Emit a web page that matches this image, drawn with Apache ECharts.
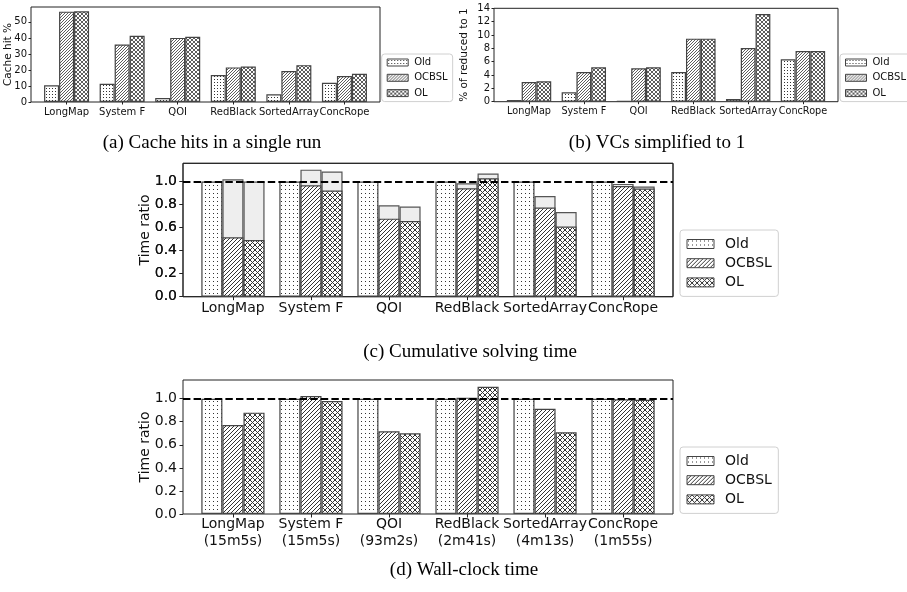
<!DOCTYPE html>
<html><head><meta charset="utf-8">
<script src="https://cdn.jsdelivr.net/npm/echarts@6/dist/echarts.min.js"></script>
<style>html,body{margin:0;padding:0;background:#fff}#c{width:907px;height:592px}</style>
</head><body><div id="c"></div>
<script>
const categories = ['LongMap','System F','QOI','RedBlack','SortedArray','ConcRope'];
const wallLabels = ['(15m5s)','(15m5s)','(93m2s)','(2m41s)','(4m13s)','(1m55s)'];
const seriesNames = ['Old','OCBSL','OL'];
const cacheOld   = [10.4, 11.4, 2.5, 16.8, 4.8, 12.0];
const cacheOCBSL = [56.4, 35.9, 40.0, 21.6, 19.3, 16.2];
const cacheOL    = [56.6, 41.3, 40.7, 22.2, 23.0, 17.6];
const vcOld   = [0.25, 1.4, 0.1, 4.45, 0.4, 6.35];
const vcOCBSL = [2.95, 4.45, 5.0, 9.45, 8.05, 7.6];
const vcOL    = [3.05, 5.15, 5.15, 9.45, 13.15, 7.6];
const solveOld        = [1, 1, 1, 1, 1, 1];
const solveOCBSL      = [0.516, 0.968, 0.678, 0.942, 0.774, 0.962];
const solveOCBSLTotal = [1.02, 1.104, 0.794, 0.986, 0.875, 0.98];
const solveOL         = [0.493, 0.922, 0.658, 1.029, 0.609, 0.939];
const solveOLTotal    = [1.0, 1.087, 0.783, 1.07, 0.736, 0.957];
const wallOld   = [1, 1, 1, 1, 1, 1];
const wallOCBSL = [0.772, 1.023, 0.717, 1.009, 0.913, 0.994];
const wallOL    = [0.879, 0.98, 0.70, 1.104, 0.708, 0.99];
const ticksA = [0, 10, 20, 30, 40, 50];
const ticksB = [0, 2, 4, 6, 8, 10, 12, 14];
const ticksC = [0, 0.2, 0.4, 0.6, 0.8, 1.0];
const refLine = 1.0;
const captions = ['(a) Cache hits in a single run', '(b) VCs simplified to 1', '(c) Cumulative solving time', '(d) Wall-clock time'];

const catPos = categories.map((_, i) => i);
const INK = '#222';
const FONT = 'DejaVu Sans';

function tile(size, draw) {
  const c = document.createElement('canvas');
  c.width = size; c.height = size;
  const g = c.getContext('2d');
  g.fillStyle = '#fff'; g.fillRect(0, 0, size, size);
  g.strokeStyle = '#333'; g.fillStyle = '#333';
  draw(g, size);
  return { image: c, repeat: 'repeat' };
}
function fwd(g, s) { g.beginPath(); g.moveTo(-1, 1); g.lineTo(1, -1); g.moveTo(0, s); g.lineTo(s, 0); g.moveTo(s - 1, s + 1); g.lineTo(s + 1, s - 1); g.stroke(); }
function back(g, s) { g.beginPath(); g.moveTo(-1, s - 1); g.lineTo(1, s + 1); g.moveTo(0, 0); g.lineTo(s, s); g.moveTo(s - 1, -1); g.lineTo(s + 1, 1); g.stroke(); }
function patterns(ds, ls, xs, lw) {
  return {
    Old: tile(ds, g => { g.fillRect(1, 1, 1, 1); }),
    OCBSL: tile(ls, g => { g.lineWidth = lw; fwd(g, ls); }),
    OL: tile(xs, g => { g.lineWidth = lw; fwd(g, xs); back(g, xs); })
  };
}
const patSmall = patterns(3, 3, 4, 0.8);
const patBig = patterns(4, 4, 5, 1);

function bar(name, data, idx, pat, extra) {
  return Object.assign({
    type: 'bar', name: name, xAxisIndex: idx, yAxisIndex: idx,
    data: data.map((v, i) => [i, v]),
    barWidth: '27%', barGap: '0%',
    itemStyle: { color: pat, borderColor: '#444', borderWidth: 1.2 },
    silent: true, animation: false
  }, extra || {});
}
function grid(left, top, width, height) {
  return { left, top, width, height, show: true, borderColor: INK, borderWidth: 1, backgroundColor: 'transparent' };
}
function xAxis(gi, fs, margin, fmt, show) {
  const small = fs < 12;
  return {
    type: 'value', gridIndex: gi, min: -0.64, max: 5.64, show: show !== false,
    splitLine: { show: false }, axisLine: { show: false, onZero: false },
    axisTick: { show: true, length: small ? 2.5 : 3.5, lineStyle: { color: INK }, customValues: catPos },
    axisLabel: { customValues: catPos, formatter: fmt, fontSize: fs, fontFamily: FONT, color: '#111', margin: margin,
      lineHeight: small ? 12 : 17, showMinLabel: true, showMaxLabel: true, hideOverlap: false, interval: 0 }
  };
}
function yAxis(gi, max, ticks, fs, margin, name, nameFs, nameGap, dec) {
  return {
    type: 'value', gridIndex: gi, min: 0, max: max,
    splitLine: { show: false }, axisLine: { show: false, onZero: false },
    axisTick: { show: true, length: fs > 12 ? 3.5 : 2.5, lineStyle: { color: INK }, customValues: ticks },
    axisLabel: { customValues: ticks, fontSize: fs, fontFamily: FONT, color: '#111', margin: margin, formatter: v => v.toFixed(dec),
      showMinLabel: true, showMaxLabel: true },
    name: name, nameLocation: 'middle', nameRotate: 90, nameGap: nameGap, nameMoveOverlap: false,
    nameTextStyle: { fontSize: nameFs, fontFamily: FONT, color: '#111' }
  };
}
function legend(left, top, fs, iw, ih, pad, gap, suffix, textPadLeft) {
  return {
    orient: 'vertical', left, top,
    data: seriesNames.map(n => n + suffix),
    formatter: n => n.split('|')[0],
    icon: 'rect', itemWidth: iw, itemHeight: ih, itemGap: gap, padding: pad,
    borderColor: '#d0d0d0', borderWidth: 1, borderRadius: 3, backgroundColor: '#fff',
    itemStyle: { borderColor: '#444', borderWidth: 1 },
    textStyle: { fontSize: fs, fontFamily: FONT, color: '#111', padding: [0, 0, 0, textPadLeft] },
    selectedMode: false
  };
}
const dash = {
  silent: true, symbol: ['none', 'none'], label: { show: false },
  lineStyle: { color: '#000', width: 2, type: [7.4, 3.2] },
  data: [{ yAxis: refLine }], animation: false
};
const catFmt = v => categories[v];
const wallFmt = v => categories[v] + '\n' + wallLabels[v];

const option = {
  backgroundColor: '#fff',
  animation: false,
  grid: [
    grid(31, 7, 349, 95),
    grid(494, 8.3, 344, 93.4),
    grid(183, 163.3, 490, 133.4),
    grid(183, 380, 490, 134),
    grid(183, 163.3, 490, 133.4)
  ],
  xAxis: [
    xAxis(0, 10, 4, catFmt),
    xAxis(1, 9.7, 4, catFmt),
    xAxis(2, 14, 3, catFmt),
    xAxis(3, 14, 2, wallFmt),
    xAxis(4, 14, 3, catFmt, false)
  ],
  yAxis: [
    yAxis(0, 59.3, ticksA, 10, 4, 'Cache hit %', 10.5, 17, 0),
    yAxis(1, 14, ticksB, 10, 4, '% of reduced to 1', 10.5, 24, 0),
    yAxis(2, 1.159, ticksC, 14, 6, 'Time ratio', 14, 31, 1),
    yAxis(3, 1.162, ticksC, 14, 6, 'Time ratio', 14, 31, 1),
    yAxis(4, 1.159, ticksC, 14, 6, '', 14, 31, 1)
  ],
  legend: [
    legend(381.7, 54, 10, 21, 7, [3.5, 5], 5.3, '|a', 1),
    legend(840, 54, 10, 21, 7, [3.5, 5], 5.3, '|b', 1),
    legend(680, 230, 14, 27, 9, [7, 6.5], 5.2, '|c', 6),
    legend(680, 447, 14, 27, 9, [7, 6.5], 5.2, '|d', 6)
  ],
  series: [
    bar('Old|a', cacheOld, 0, patSmall.Old),
    bar('OCBSL|a', cacheOCBSL, 0, patSmall.OCBSL),
    bar('OL|a', cacheOL, 0, patSmall.OL),
    bar('Old|b', vcOld, 1, patSmall.Old),
    bar('OCBSL|b', vcOCBSL, 1, patSmall.OCBSL),
    bar('OL|b', vcOL, 1, patSmall.OL),
    bar('Old|c', solveOld, 2, patBig.Old, { markLine: dash }),
    bar('OCBSL|c', solveOCBSL, 2, patBig.OCBSL),
    bar('OL|c', solveOL, 2, patBig.OL),
    bar('Old|d', wallOld, 3, patBig.Old, { markLine: dash }),
    bar('OCBSL|d', wallOCBSL, 3, patBig.OCBSL),
    bar('OL|d', wallOL, 3, patBig.OL),
    // light-gray totals behind the patterned parts in (c)
    bar('oldTotal', solveOld, 4, 'rgba(0,0,0,0)', { z: 1, itemStyle: { color: 'rgba(0,0,0,0)', borderWidth: 0 } }),
    bar('ocbslTotal', solveOCBSLTotal, 4, '#eeeeee', { z: 1, itemStyle: { color: '#eeeeee', borderColor: '#555', borderWidth: 1.2 } }),
    bar('olTotal', solveOLTotal, 4, '#eeeeee', { z: 1, itemStyle: { color: '#eeeeee', borderColor: '#555', borderWidth: 1.2 } })
  ],
  graphic: [
    { type: 'text', x: 212, y: 143, style: { text: captions[0], font: '19px "Liberation Serif"', fill: '#000', textAlign: 'center', textVerticalAlign: 'middle' } },
    { type: 'text', x: 657, y: 143, style: { text: captions[1], font: '19px "Liberation Serif"', fill: '#000', textAlign: 'center', textVerticalAlign: 'middle' } },
    { type: 'text', x: 470, y: 352, style: { text: captions[2], font: '19px "Liberation Serif"', fill: '#000', textAlign: 'center', textVerticalAlign: 'middle' } },
    { type: 'text', x: 464, y: 570, style: { text: captions[3], font: '19px "Liberation Serif"', fill: '#000', textAlign: 'center', textVerticalAlign: 'middle' } }
  ]
};
const chart = echarts.init(document.getElementById('c'), null, { renderer: 'canvas' });
chart.setOption(option);
</script>
</body></html>
